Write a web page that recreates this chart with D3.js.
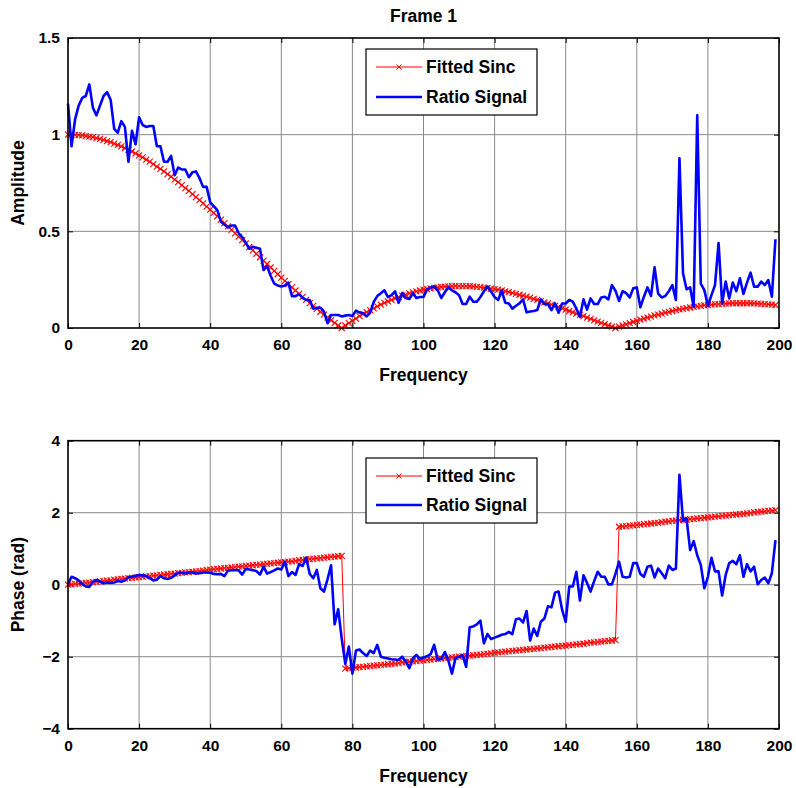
<!DOCTYPE html>
<html>
<head>
<meta charset="utf-8">
<script src="https://cdn.jsdelivr.net/npm/d3@7"></script>
<style>
  html, body { margin: 0; padding: 0; background: #fff; }
  svg { display: block; }
  text { font-family: "Liberation Sans", Arial, sans-serif; font-weight: bold; fill: #000; }
</style>
</head>
<body>
<svg id="fig" width="796" height="788"></svg>
<script>
// Frequency bins 0..199
const freq = d3.range(0, 200);

// Fitted sinc magnitude
const ampFit = [
  1.000,1.000,0.999,0.998,0.996,0.993,0.990,0.987,0.982,0.978,
  0.973,0.967,0.961,0.954,0.947,0.939,0.931,0.922,0.913,0.903,
  0.893,0.882,0.871,0.860,0.848,0.835,0.823,0.810,0.796,0.783,
  0.768,0.754,0.739,0.724,0.709,0.693,0.677,0.661,0.645,0.628,
  0.612,0.595,0.578,0.560,0.543,0.526,0.508,0.490,0.473,0.455,
  0.437,0.419,0.402,0.384,0.366,0.348,0.331,0.313,0.296,0.278,
  0.261,0.244,0.227,0.210,0.194,0.177,0.161,0.145,0.129,0.114,
  0.099,0.084,0.069,0.055,0.040,0.027,0.013,0.000,0.013,0.025,
  0.037,0.049,0.061,0.072,0.082,0.093,0.102,0.112,0.121,0.130,
  0.138,0.146,0.153,0.160,0.167,0.173,0.179,0.184,0.189,0.194,
  0.198,0.201,0.205,0.208,0.210,0.212,0.214,0.215,0.216,0.217,
  0.217,0.217,0.217,0.216,0.215,0.213,0.211,0.209,0.207,0.204,
  0.201,0.198,0.194,0.190,0.186,0.182,0.177,0.172,0.167,0.162,
  0.157,0.151,0.145,0.139,0.133,0.127,0.121,0.114,0.108,0.101,
  0.095,0.088,0.081,0.074,0.068,0.061,0.054,0.047,0.040,0.033,
  0.027,0.020,0.013,0.007,0.000,0.007,0.013,0.019,0.025,0.031,
  0.037,0.043,0.049,0.054,0.059,0.065,0.069,0.074,0.079,0.083,
  0.088,0.092,0.096,0.099,0.103,0.106,0.109,0.112,0.114,0.117,
  0.119,0.121,0.123,0.124,0.125,0.126,0.127,0.128,0.128,0.128,
  0.128,0.128,0.128,0.127,0.126,0.125,0.124,0.122,0.121,0.119
];

// Measured ratio magnitude
const ampRatio = [
  1.16,0.94,1.08,1.15,1.19,1.20,1.26,1.14,1.10,1.15,
  1.20,1.22,1.18,1.03,1.01,1.07,1.04,0.86,1.02,0.95,
  1.09,1.05,1.04,1.045,1.045,0.94,0.94,0.86,0.86,0.89,
  0.79,0.83,0.82,0.82,0.78,0.805,0.81,0.775,0.73,0.73,
  0.65,0.63,0.61,0.55,0.535,0.52,0.53,0.53,0.49,0.47,
  0.44,0.41,0.42,0.415,0.41,0.30,0.32,0.27,0.23,0.22,
  0.215,0.22,0.235,0.165,0.165,0.175,0.155,0.145,0.145,0.10,
  0.105,0.105,0.085,0.025,0.067,0.067,0.067,0.06,0.064,0.067,
  0.062,0.09,0.08,0.077,0.06,0.08,0.135,0.165,0.18,0.195,
  0.16,0.17,0.19,0.13,0.18,0.155,0.15,0.18,0.155,0.16,
  0.16,0.20,0.21,0.215,0.195,0.155,0.185,0.21,0.195,0.185,
  0.17,0.124,0.124,0.162,0.136,0.136,0.16,0.19,0.214,0.188,
  0.16,0.145,0.193,0.131,0.127,0.10,0.115,0.127,0.148,0.081,
  0.085,0.088,0.093,0.148,0.124,0.124,0.093,0.127,0.079,0.127,
  0.127,0.145,0.136,0.10,0.058,0.148,0.095,0.153,0.124,0.124,
  0.158,0.162,0.148,0.222,0.193,0.14,0.19,0.18,0.158,0.205,
  0.21,0.107,0.162,0.21,0.166,0.314,0.178,0.158,0.165,0.19,
  0.222,0.145,0.878,0.283,0.20,0.21,0.11,1.10,0.23,0.196,
  0.115,0.17,0.222,0.44,0.127,0.24,0.153,0.235,0.19,0.257,
  0.176,0.235,0.286,0.214,0.214,0.24,0.222,0.248,0.162,0.459
];

// Fitted sinc phase (rad)
const phaseFit = [
  0.00,0.01,0.02,0.03,0.04,0.05,0.06,0.07,0.08,0.09,
  0.10,0.11,0.12,0.14,0.15,0.16,0.17,0.18,0.19,0.20,
  0.21,0.22,0.23,0.24,0.25,0.26,0.27,0.28,0.29,0.30,
  0.31,0.32,0.33,0.34,0.35,0.36,0.37,0.38,0.39,0.41,
  0.42,0.43,0.44,0.45,0.46,0.47,0.48,0.49,0.50,0.51,
  0.52,0.53,0.54,0.55,0.56,0.57,0.58,0.59,0.60,0.61,
  0.62,0.63,0.64,0.65,0.66,0.68,0.69,0.70,0.71,0.72,
  0.73,0.74,0.75,0.76,0.77,0.78,0.79,0.80,-2.33,-2.32,
  -2.31,-2.30,-2.29,-2.28,-2.27,-2.26,-2.25,-2.24,-2.23,-2.22,
  -2.21,-2.20,-2.19,-2.18,-2.16,-2.15,-2.14,-2.13,-2.12,-2.11,
  -2.10,-2.09,-2.08,-2.07,-2.06,-2.05,-2.04,-2.03,-2.02,-2.01,
  -2.00,-1.99,-1.98,-1.97,-1.96,-1.95,-1.94,-1.93,-1.92,-1.91,
  -1.89,-1.88,-1.87,-1.86,-1.85,-1.84,-1.83,-1.82,-1.81,-1.80,
  -1.79,-1.78,-1.77,-1.76,-1.75,-1.74,-1.73,-1.72,-1.71,-1.70,
  -1.69,-1.68,-1.67,-1.66,-1.65,-1.64,-1.62,-1.61,-1.60,-1.59,
  -1.58,-1.57,-1.56,-1.55,-1.54,1.61,1.62,1.63,1.64,1.65,
  1.66,1.67,1.68,1.69,1.70,1.71,1.72,1.74,1.75,1.76,
  1.77,1.78,1.79,1.80,1.81,1.82,1.83,1.84,1.85,1.86,
  1.87,1.88,1.89,1.90,1.91,1.92,1.93,1.94,1.95,1.96,
  1.97,1.98,1.99,2.01,2.02,2.03,2.04,2.05,2.06,2.07
];

// Measured ratio phase (rad)
const phaseRatio = [
  0.02,0.22,0.18,0.12,0.02,-0.05,-0.06,0.08,0.13,0.09,
  0.04,0.06,0.05,0.06,0.10,0.08,0.12,0.21,0.22,0.25,
  0.27,0.26,0.24,0.18,0.12,0.14,0.24,0.18,0.16,0.19,
  0.26,0.33,0.33,0.31,0.34,0.34,0.31,0.32,0.34,0.34,
  0.33,0.30,0.29,0.30,0.24,0.39,0.40,0.41,0.40,0.28,
  0.44,0.42,0.40,0.38,0.28,0.50,0.31,0.35,0.40,0.45,
  0.42,0.64,0.24,0.35,0.27,0.57,0.52,0.75,0.30,0.18,
  0.41,-0.10,-0.19,0.15,0.54,-1.10,-0.68,-1.50,-2.20,-1.72,
  -2.47,-1.83,-1.80,-1.90,-1.98,-1.83,-1.90,-1.67,-2.00,-2.03,
  -2.05,-2.07,-2.08,-2.09,-2.00,-2.13,-2.32,-2.05,-1.95,-2.06,
  -2.02,-1.99,-1.93,-1.67,-2.08,-2.06,-1.87,-2.11,-2.47,-2.04,
  -2.00,-1.96,-2.28,-1.18,-1.16,-1.10,-1.00,-1.63,-1.37,-1.51,
  -1.47,-1.43,-1.39,-1.37,-1.31,-1.37,-0.96,-0.94,-1.05,-0.73,
  -1.55,-1.22,-1.42,-1.03,-0.94,-0.60,-0.63,-0.22,-0.19,-0.70,
  -1.03,-0.05,-0.05,0.36,-0.44,0.26,0.05,-0.19,0.10,0.36,
  0.22,0.22,0.01,0.01,0.30,0.64,0.22,0.20,0.22,0.60,
  0.60,0.30,0.22,0.50,0.53,0.20,0.45,0.32,0.18,0.53,
  0.41,0.45,3.05,1.78,1.84,0.96,1.21,0.82,0.55,-0.10,
  0.22,0.75,0.37,0.37,-0.30,0.27,0.60,0.66,0.57,0.82,
  0.22,0.57,0.37,0.50,0.01,0.13,0.20,0.04,0.32,1.24
];

// Tick values
const freqTicks = [0, 20, 40, 60, 80, 100, 120, 140, 160, 180, 200];
const ampTicks = [0, 0.5, 1, 1.5];
const phaseTicks = [-4, -2, 0, 2, 4];

// Series labels
const seriesNames = ["Fitted Sinc", "Ratio Signal"];

const svg = d3.select("#fig");
svg.append("rect").attr("width", 796).attr("height", 788).attr("fill", "#fff");

const left = 68, right = 779;
const RED = "#ff0000", BLUE = "#0000ff";
const xMark = "M-3,-3L3,3M-3,3L3,-3";

function drawPanel(cfg) {
  const x = d3.scaleLinear().domain([0, 200]).range([left, right]);
  const y = d3.scaleLinear().domain(cfg.yDomain).range([cfg.bottom, cfg.top]);
  const g = svg.append("g");

  // grid
  const grid = g.append("g").attr("stroke", "#8a8a8a").attr("stroke-width", 1);
  grid.selectAll("line.vg").data(freqTicks.slice(1, -1)).join("line").attr("class", "vg")
    .attr("x1", d => x(d)).attr("x2", d => x(d))
    .attr("y1", cfg.top).attr("y2", cfg.bottom);
  grid.selectAll("line.hg").data(cfg.yTicks.slice(1, -1)).join("line").attr("class", "hg")
    .attr("x1", left).attr("x2", right)
    .attr("y1", d => y(d)).attr("y2", d => y(d));

  // axes with inward ticks on all four sides
  const axStyle = sel => {
    sel.select(".domain").remove();
    sel.selectAll(".tick line").attr("stroke", "#000").attr("stroke-width", 1);
    sel.selectAll("text").attr("font-size", 15.5).attr("font-family", "Liberation Sans, Arial, sans-serif")
      .attr("font-weight", "bold").attr("fill", "#000");
  };
  g.append("g").attr("transform", `translate(0,${cfg.bottom})`)
    .call(d3.axisBottom(x).tickValues(freqTicks).tickSizeInner(-5).tickSizeOuter(0).tickPadding(11))
    .call(axStyle);
  g.append("g").attr("transform", `translate(0,${cfg.top})`)
    .call(d3.axisTop(x).tickValues(freqTicks).tickSizeInner(-5).tickSizeOuter(0).tickFormat(""))
    .call(axStyle);
  g.append("g").attr("transform", `translate(${left},0)`)
    .call(d3.axisLeft(y).tickValues(cfg.yTicks).tickSizeInner(-5).tickSizeOuter(0).tickPadding(8).tickFormat(cfg.fmt))
    .call(axStyle);
  g.append("g").attr("transform", `translate(${right},0)`)
    .call(d3.axisRight(y).tickValues(cfg.yTicks).tickSizeInner(-5).tickSizeOuter(0).tickFormat(""))
    .call(axStyle);

  // fitted curve: thin red line with x markers
  const line = d3.line().x((d, i) => x(freq[i])).y(d => y(d));
  g.append("path").datum(cfg.fit).attr("d", line)
    .attr("fill", "none").attr("stroke", RED).attr("stroke-width", 1);
  g.append("g").selectAll("path.mk").data(cfg.fit).join("path").attr("class", "mk")
    .attr("transform", (d, i) => `translate(${x(freq[i])},${y(d)})`)
    .attr("d", xMark)
    .attr("stroke", RED).attr("stroke-width", 1.1).attr("fill", "none");

  // measured ratio signal
  g.append("path").datum(cfg.ratio).attr("d", line)
    .attr("fill", "none").attr("stroke", BLUE).attr("stroke-width", 2.6)
    .attr("stroke-linejoin", "round");

  // frame
  g.append("rect").attr("x", left).attr("y", cfg.top)
    .attr("width", right - left).attr("height", cfg.bottom - cfg.top)
    .attr("fill", "none").attr("stroke", "#000").attr("stroke-width", 1.6);

  // axis labels
  g.append("text").attr("x", (left + right) / 2).attr("y", cfg.bottom + 53)
    .attr("text-anchor", "middle").attr("font-size", 17.5).text("Frequency");
  g.append("text")
    .attr("transform", `translate(24,${(cfg.top + cfg.bottom) / 2}) rotate(-90)`)
    .attr("text-anchor", "middle").attr("font-size", 17.5).text(cfg.ylabel);

  // legend
  const L = cfg.legend;
  const lg = g.append("g");
  lg.append("rect").attr("x", L.x).attr("y", L.y).attr("width", L.w).attr("height", L.h)
    .attr("fill", "#fff").attr("stroke", "#000").attr("stroke-width", 1.2);
  const rows = [Math.round(L.y + L.h * 0.28), Math.round(L.y + L.h * 0.73)];
  lg.append("path")
    .attr("d", `M${L.x + 10},${rows[0]}H${L.x + 56}`)
    .attr("stroke", RED).attr("stroke-width", 1.2).attr("fill", "none");
  lg.append("path").attr("transform", `translate(${L.x + 33},${rows[0]})`)
    .attr("d", "M-2.5,-2.5L2.5,2.5M-2.5,2.5L2.5,-2.5").attr("stroke", RED).attr("stroke-width", 1)
    .attr("fill", "none");
  lg.append("path")
    .attr("d", `M${L.x + 10},${rows[1]}H${L.x + 56}`)
    .attr("stroke", BLUE).attr("stroke-width", 2.6).attr("fill", "none");
  seriesNames.forEach((s, i) => {
    lg.append("text").attr("x", L.x + 60).attr("y", rows[i]).attr("dy", "0.36em")
      .attr("font-size", 17.5).text(s);
  });
}

// title
svg.append("text").attr("x", (left + right) / 2).attr("y", 22)
  .attr("text-anchor", "middle").attr("font-size", 17.5).text("Frame 1");

drawPanel({
  top: 38, bottom: 328, yDomain: [0, 1.5], yTicks: ampTicks,
  fmt: d => d3.format("")(d), fit: ampFit, ratio: ampRatio, ylabel: "Amplitude",
  legend: { x: 366, y: 49, w: 171, h: 66 }
});

drawPanel({
  top: 440.7, bottom: 728.7, yDomain: [-4, 4], yTicks: phaseTicks,
  fmt: d => d3.format("")(d), fit: phaseFit, ratio: phaseRatio, ylabel: "Phase (rad)",
  legend: { x: 366, y: 458, w: 171, h: 65 }
});
</script>
</body>
</html>
